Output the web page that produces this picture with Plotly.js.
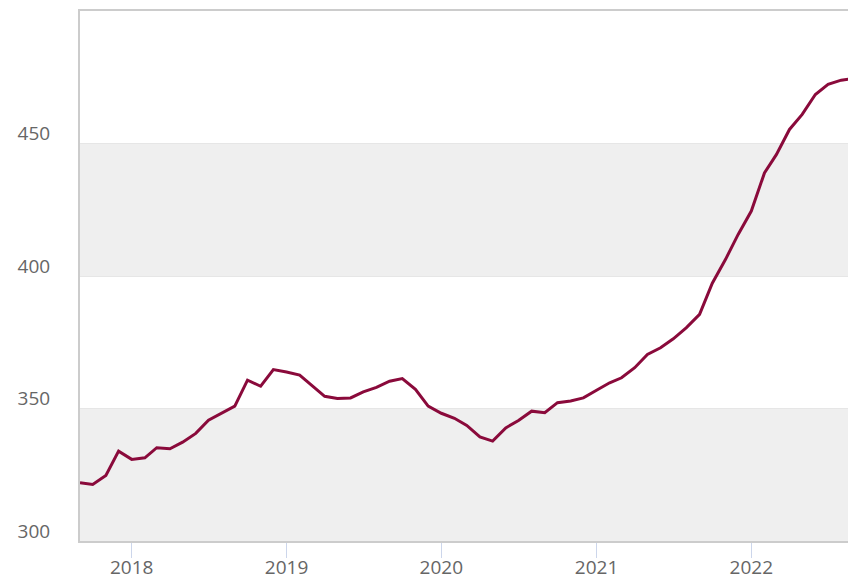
<!DOCTYPE html>
<html>
<head>
<meta charset="utf-8">
<script src="https://cdn.plot.ly/plotly-3.0.1.min.js"></script>
<style>html,body{margin:0;padding:0;background:#fff;}#chart{width:848px;height:580px;}</style>
</head>
<body>
<div id="chart"></div>
<script>
const months = [
  "2017-09-01","2017-10-01","2017-11-01","2017-12-01",
  "2018-01-01","2018-02-01","2018-03-01","2018-04-01","2018-05-01","2018-06-01",
  "2018-07-01","2018-08-01","2018-09-01","2018-10-01","2018-11-01","2018-12-01",
  "2019-01-01","2019-02-01","2019-03-01","2019-04-01","2019-05-01","2019-06-01",
  "2019-07-01","2019-08-01","2019-09-01","2019-10-01","2019-11-01","2019-12-01",
  "2020-01-01","2020-02-01","2020-03-01","2020-04-01","2020-05-01","2020-06-01",
  "2020-07-01","2020-08-01","2020-09-01","2020-10-01","2020-11-01","2020-12-01",
  "2021-01-01","2021-02-01","2021-03-01","2021-04-01","2021-05-01","2021-06-01",
  "2021-07-01","2021-08-01","2021-09-01","2021-10-01","2021-11-01","2021-12-01",
  "2022-01-01","2022-02-01","2022-03-01","2022-04-01","2022-05-01","2022-06-01",
  "2022-07-01","2022-08-01","2022-09-01"
];
const values = [
  322.0, 321.3, 324.7, 333.9,
  330.8, 331.4, 335.2, 334.8, 337.3, 340.6,
  345.6, 348.1, 350.9, 360.7, 358.4, 364.7,
  363.8, 362.6, 358.8, 354.6, 353.8, 354.0,
  356.3, 358.0, 360.3, 361.3, 357.2, 350.9,
  348.2, 346.3, 343.6, 339.3, 337.7, 342.7,
  345.5, 349.0, 348.4, 352.2, 352.8, 354.0,
  356.9, 359.7, 361.6, 365.4, 370.4, 372.9,
  376.3, 380.5, 385.5, 397.3, 406.2, 415.7,
  424.5, 438.9, 445.8, 455.3, 461.0, 468.5,
  472.3, 473.9, 474.6
];
const yTicks = [300, 350, 400, 450];
const bands = [[300, 350], [400, 450]];

const shapes = bands.map(b => ({
  type: 'rect', xref: 'paper', yref: 'y', x0: 0, x1: 1, y0: b[0], y1: b[1],
  fillcolor: '#efefef', line: {width: 0}, layer: 'below'
}));

const trace = {
  x: months, y: values, type: 'scatter', mode: 'lines',
  line: {color: '#8a0a3b', width: 3}, hoverinfo: 'x+y'
};

const layout = {
  width: 848, height: 580,
  margin: {l: 80, r: 0, t: 11, b: 39, pad: 0},
  paper_bgcolor: '#ffffff', plot_bgcolor: '#ffffff',
  showlegend: false,
  shapes: shapes,
  xaxis: {
    type: 'date',
    range: ['2017-09-01', '2022-08-17'],
    dtick: 'M12', tick0: '2018-01-01', tickformat: '%Y',
    ticks: 'outside', ticklen: 15, tickcolor: '#ccd6eb', tickwidth: 1,
    ticklabelstandoff: -7,
    showgrid: false, zeroline: false,
    showline: true, linecolor: '#cccccc', linewidth: 2, mirror: true,
    tickfont: {family: 'Open Sans, sans-serif', size: 19, color: '#666666'}
  },
  yaxis: {
    range: [300, 500], tickvals: yTicks, ticktext: yTicks.map(String),
    ticks: '', showgrid: true, gridcolor: '#e6e6e6', gridwidth: 1,
    zeroline: false, showline: true, linecolor: '#cccccc', linewidth: 2,
    ticklabelshift: -10, ticklabelstandoff: 24,
    tickfont: {family: 'Open Sans, sans-serif', size: 19, color: '#666666'}
  }
};

Plotly.newPlot('chart', [trace], layout, {displayModeBar: false, staticPlot: true});
</script>
</body>
</html>
